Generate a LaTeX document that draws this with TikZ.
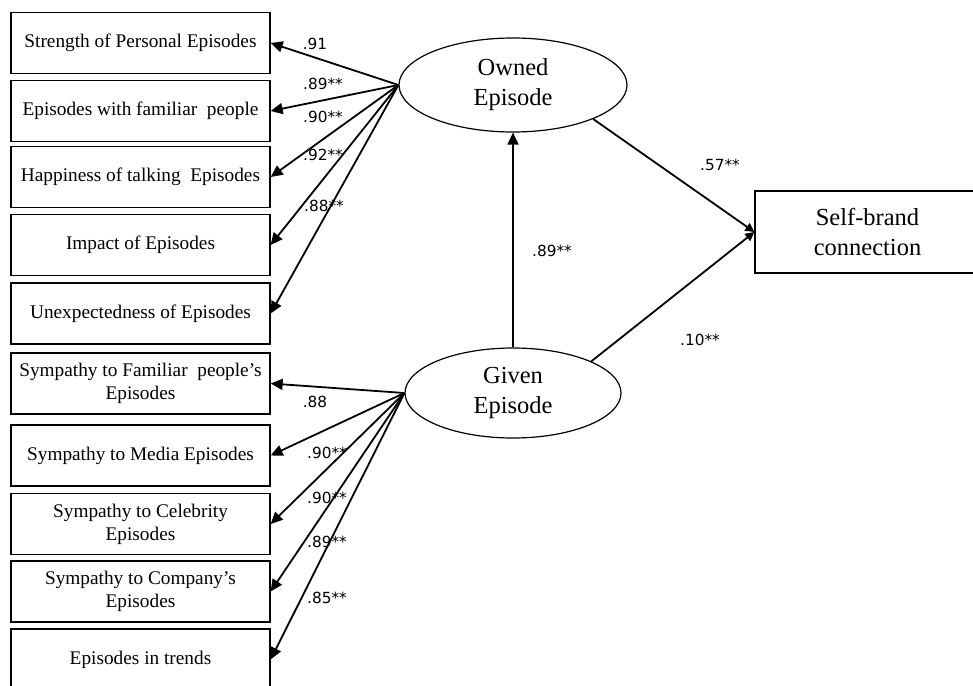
\documentclass[tikz,border=0pt]{standalone}
\usepackage{fontspec}
\setmainfont{Liberation Serif}
\newfontfamily\labfont{DejaVu Sans}
\usetikzlibrary{arrows.meta,shapes.geometric}
\begin{document}
\begin{tikzpicture}[x=1pt,y=-1pt,
  obsbox/.style={draw,line width=1.3pt,minimum width=259pt,minimum height=61pt,inner sep=0pt,align=center,font=\fontsize{19.3}{22.7}\selectfont},
  latent/.style={draw,ellipse,line width=1.2pt,inner sep=0pt,align=center,font=\fontsize{24.5}{30}\selectfont},
  arr/.style={line width=1.8pt,-{Triangle[length=12pt,width=11pt]}},
  arrs/.style={line width=1.8pt,-{Triangle[length=9pt,width=9pt]}},
  coef/.style={inner sep=0pt,font=\labfont\fontsize{15.3}{18}\selectfont}]
\useasboundingbox (0,0) rectangle (973,685);
% observed indicators
\node[obsbox] (b1) at (140.5,43) {Strength of Personal Episodes};
\node[obsbox] (b2) at (140.5,111) {Episodes with familiar\ \ people};
\node[obsbox] (b3) at (140.5,177) {Happiness of talking\ \ Episodes};
\node[obsbox] (b4) at (140.5,245) {Impact of Episodes};
\node[obsbox] (b5) at (140.5,313.5) {Unexpectedness of Episodes};
\node[obsbox] (b6) at (140.5,383.5) {Sympathy to Familiar\ \ people’s\\Episodes};
\node[obsbox] (b7) at (140.5,455.5) {Sympathy to Media Episodes};
\node[obsbox] (b8) at (140.5,524) {Sympathy to Celebrity\\Episodes};
\node[obsbox] (b9) at (140.5,591.5) {Sympathy to Company’s\\Episodes};
\node[obsbox] (b10) at (140.5,659.5) {Episodes in trends};
% latent variables
\node[latent,minimum width=228pt,minimum height=94pt] (O) at (513,85) {Owned\\Episode};
\node[latent,minimum width=216pt,minimum height=90pt] (G) at (513,393) {Given\\Episode};
% outcome
\node[draw,line width=1.3pt,minimum width=225pt,minimum height=82pt,inner sep=0pt,align=center,font=\fontsize{24.5}{30}\selectfont] (S) at (867.5,232) {Self-brand\\connection};
% loadings
\foreach \b in {b1,b2,b3,b4,b5}{\draw[arr] (O.west) -- (\b.east);}
\foreach \b in {b6,b7,b8,b9,b10}{\draw[arr] (G.west) -- (\b.east);}
% structural paths
\draw[arr] (G.north) -- (O.south);
\draw[arrs] (O.-23) -- (S.west);
\draw[arrs] (G.22) -- (S.west);
% coefficients
\node[coef] (c1) at (315,44) {.91};
\node[coef] (c2) at (323,84) {.89**};
\node[coef] (c3) at (323,117) {.90**};
\node[coef] (c4) at (323,155) {.92**};
\node[coef] (c5) at (324,206) {.88**};
\node[coef] (c6) at (315,402) {.88};
\node[coef] (c7) at (327,453) {.90**};
\node[coef] (c8) at (327,498) {.90**};
\node[coef] (c9) at (327,542) {.89**};
\node[coef] (c10) at (327,598) {.85**};
\node[coef] (c11) at (720,165) {.57**};
\node[coef] (c12) at (552,251) {.89**};
\node[coef] (c13) at (700,340) {.10**};
\end{tikzpicture}
\end{document}
